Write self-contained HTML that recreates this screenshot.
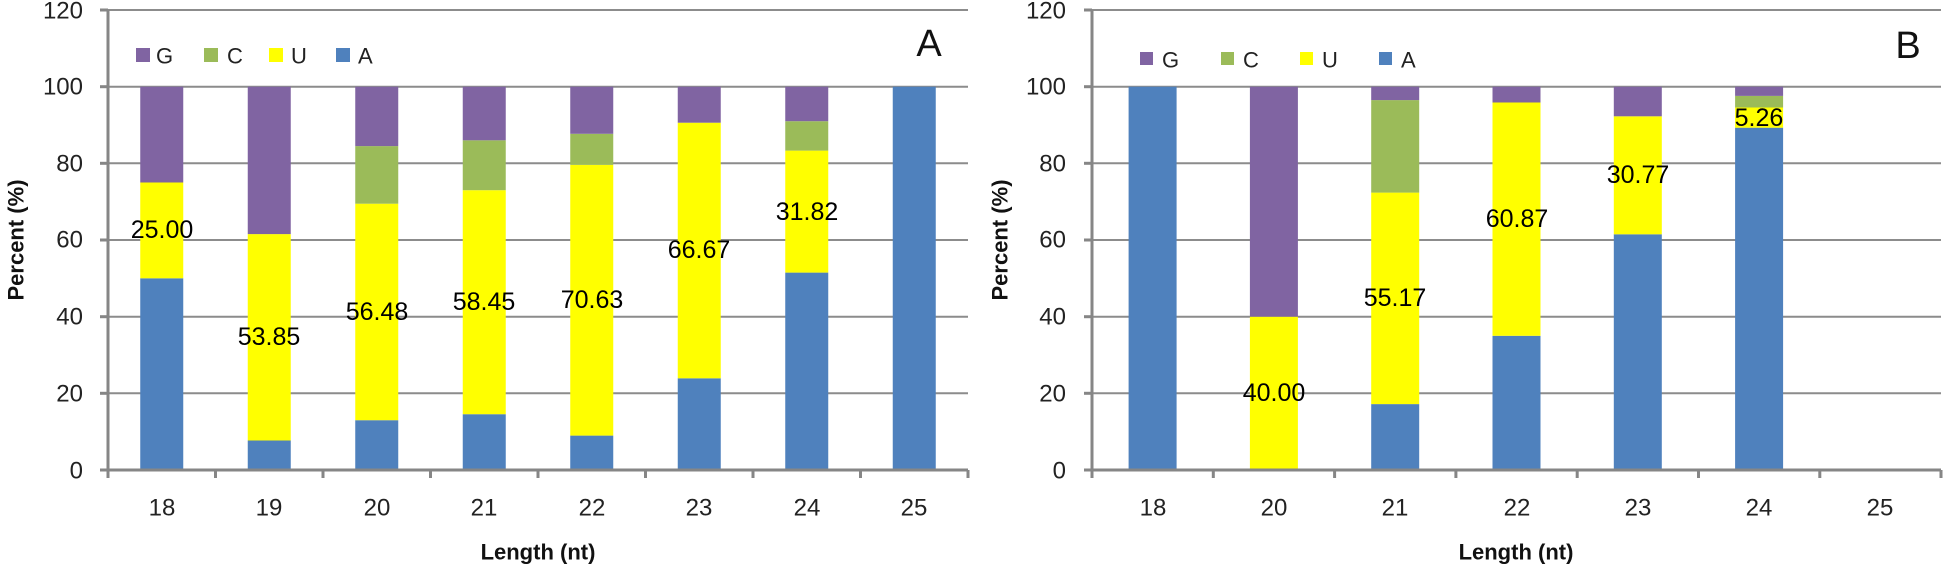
<!DOCTYPE html>
<html><head><meta charset="utf-8"><style>html,body{margin:0;padding:0;background:#fff}svg{display:block}text{font-family:"Liberation Sans",sans-serif}</style></head>
<body>
<svg width="1946" height="568" xmlns="http://www.w3.org/2000/svg">
<g stroke="#8c8c8c" stroke-width="2">
<line x1="108" y1="10" x2="968" y2="10"/><line x1="108" y1="86.7" x2="968" y2="86.7"/><line x1="108" y1="163.3" x2="968" y2="163.3"/><line x1="108" y1="240" x2="968" y2="240"/><line x1="108" y1="316.7" x2="968" y2="316.7"/><line x1="108" y1="393.3" x2="968" y2="393.3"/>
<line x1="1092" y1="10" x2="1941" y2="10"/><line x1="1092" y1="86.7" x2="1941" y2="86.7"/><line x1="1092" y1="163.3" x2="1941" y2="163.3"/><line x1="1092" y1="240" x2="1941" y2="240"/><line x1="1092" y1="316.7" x2="1941" y2="316.7"/><line x1="1092" y1="393.3" x2="1941" y2="393.3"/>
</g>
<g>
<rect x="140.25" y="278.3" width="43" height="191.7" fill="#4f81bd"/><rect x="140.25" y="182.5" width="43" height="95.8" fill="#ffff00"/><rect x="140.25" y="86.7" width="43" height="95.8" fill="#8064a2"/>
<rect x="247.75" y="440.5" width="43" height="29.5" fill="#4f81bd"/><rect x="247.75" y="234.1" width="43" height="206.4" fill="#ffff00"/><rect x="247.75" y="86.7" width="43" height="147.4" fill="#8064a2"/>
<rect x="355.25" y="420.2" width="43" height="49.8" fill="#4f81bd"/><rect x="355.25" y="203.7" width="43" height="216.5" fill="#ffff00"/><rect x="355.25" y="146.1" width="43" height="57.6" fill="#9bbb59"/><rect x="355.25" y="86.7" width="43" height="59.4" fill="#8064a2"/>
<rect x="462.75" y="414.2" width="43" height="55.8" fill="#4f81bd"/><rect x="462.75" y="190.2" width="43" height="224" fill="#ffff00"/><rect x="462.75" y="140.3" width="43" height="49.9" fill="#9bbb59"/><rect x="462.75" y="86.7" width="43" height="53.6" fill="#8064a2"/>
<rect x="570.25" y="435.6" width="43" height="34.4" fill="#4f81bd"/><rect x="570.25" y="164.9" width="43" height="270.7" fill="#ffff00"/><rect x="570.25" y="133.8" width="43" height="31.1" fill="#9bbb59"/><rect x="570.25" y="86.7" width="43" height="47.1" fill="#8064a2"/>
<rect x="677.75" y="378.3" width="43" height="91.7" fill="#4f81bd"/><rect x="677.75" y="122.7" width="43" height="255.6" fill="#ffff00"/><rect x="677.75" y="86.7" width="43" height="36" fill="#8064a2"/>
<rect x="785.25" y="272.6" width="43" height="197.4" fill="#4f81bd"/><rect x="785.25" y="150.6" width="43" height="122" fill="#ffff00"/><rect x="785.25" y="121.2" width="43" height="29.4" fill="#9bbb59"/><rect x="785.25" y="86.7" width="43" height="34.5" fill="#8064a2"/>
<rect x="892.75" y="86.7" width="43" height="383.3" fill="#4f81bd"/>
</g>
<g>
<rect x="1128.6" y="86.7" width="48" height="383.3" fill="#4f81bd"/>
<rect x="1249.9" y="316.7" width="48" height="153.3" fill="#ffff00"/><rect x="1249.9" y="86.7" width="48" height="230" fill="#8064a2"/>
<rect x="1371.2" y="404.1" width="48" height="65.9" fill="#4f81bd"/><rect x="1371.2" y="192.6" width="48" height="211.5" fill="#ffff00"/><rect x="1371.2" y="100.1" width="48" height="92.5" fill="#9bbb59"/><rect x="1371.2" y="86.7" width="48" height="13.4" fill="#8064a2"/>
<rect x="1492.5" y="335.8" width="48" height="134.2" fill="#4f81bd"/><rect x="1492.5" y="102.5" width="48" height="233.3" fill="#ffff00"/><rect x="1492.5" y="86.7" width="48" height="15.8" fill="#8064a2"/>
<rect x="1613.8" y="234.3" width="48" height="235.7" fill="#4f81bd"/><rect x="1613.8" y="116.3" width="48" height="118" fill="#ffff00"/><rect x="1613.8" y="86.7" width="48" height="29.6" fill="#8064a2"/>
<rect x="1735.1" y="127.7" width="48" height="342.3" fill="#4f81bd"/><rect x="1735.1" y="107.5" width="48" height="20.2" fill="#ffff00"/><rect x="1735.1" y="95.9" width="48" height="11.6" fill="#9bbb59"/><rect x="1735.1" y="86.7" width="48" height="9.2" fill="#8064a2"/>
</g>
<g stroke="#868686" stroke-width="3" fill="none">
<line x1="108" y1="10" x2="108" y2="478"/><line x1="100" y1="470" x2="968" y2="470"/>
<line x1="1092" y1="10" x2="1092" y2="478"/><line x1="1084" y1="470" x2="1941" y2="470"/>
</g>
<g stroke="#868686" stroke-width="3">
<line x1="100" y1="10" x2="108" y2="10"/><line x1="100" y1="86.7" x2="108" y2="86.7"/><line x1="100" y1="163.3" x2="108" y2="163.3"/><line x1="100" y1="240" x2="108" y2="240"/><line x1="100" y1="316.7" x2="108" y2="316.7"/><line x1="100" y1="393.3" x2="108" y2="393.3"/>
<line x1="215.5" y1="470" x2="215.5" y2="478"/><line x1="323" y1="470" x2="323" y2="478"/><line x1="430.5" y1="470" x2="430.5" y2="478"/><line x1="538" y1="470" x2="538" y2="478"/><line x1="645.5" y1="470" x2="645.5" y2="478"/><line x1="753" y1="470" x2="753" y2="478"/><line x1="860.5" y1="470" x2="860.5" y2="478"/><line x1="968" y1="470" x2="968" y2="478"/>
<line x1="1084" y1="10" x2="1092" y2="10"/><line x1="1084" y1="86.7" x2="1092" y2="86.7"/><line x1="1084" y1="163.3" x2="1092" y2="163.3"/><line x1="1084" y1="240" x2="1092" y2="240"/><line x1="1084" y1="316.7" x2="1092" y2="316.7"/><line x1="1084" y1="393.3" x2="1092" y2="393.3"/>
<line x1="1213.3" y1="470" x2="1213.3" y2="478"/><line x1="1334.6" y1="470" x2="1334.6" y2="478"/><line x1="1455.9" y1="470" x2="1455.9" y2="478"/><line x1="1577.2" y1="470" x2="1577.2" y2="478"/><line x1="1698.5" y1="470" x2="1698.5" y2="478"/><line x1="1819.8" y1="470" x2="1819.8" y2="478"/><line x1="1941" y1="470" x2="1941" y2="478"/>
</g>
<g font-size="24" fill="#222" text-anchor="end" dominant-baseline="central">
<text x="83" y="11">120</text><text x="83" y="87">100</text><text x="83" y="164">80</text><text x="83" y="240">60</text><text x="83" y="317">40</text><text x="83" y="394">20</text><text x="83" y="471">0</text>
<text x="1066" y="11">120</text><text x="1066" y="87">100</text><text x="1066" y="164">80</text><text x="1066" y="240">60</text><text x="1066" y="317">40</text><text x="1066" y="394">20</text><text x="1066" y="471">0</text>
</g>
<g font-size="24" fill="#222" text-anchor="middle" dominant-baseline="central">
<text x="162" y="508">18</text><text x="269" y="508">19</text><text x="377" y="508">20</text><text x="484" y="508">21</text><text x="592" y="508">22</text><text x="699" y="508">23</text><text x="807" y="508">24</text><text x="914" y="508">25</text>
<text x="1153" y="508">18</text><text x="1274" y="508">20</text><text x="1395" y="508">21</text><text x="1517" y="508">22</text><text x="1638" y="508">23</text><text x="1759" y="508">24</text><text x="1880" y="508">25</text>
</g>
<g font-size="22" font-weight="bold" fill="#111" text-anchor="middle" dominant-baseline="central">
<text x="538" y="552">Length (nt)</text><text x="1516" y="552">Length (nt)</text>
<text transform="translate(16,240) rotate(-90)">Percent (%)</text>
<text transform="translate(1000,240) rotate(-90)">Percent (%)</text>
</g>
<g font-size="25" fill="#000" text-anchor="middle" dominant-baseline="central">
<text x="162" y="230">25.00</text><text x="269" y="337">53.85</text><text x="377" y="312">56.48</text><text x="484" y="302">58.45</text><text x="592" y="300">70.63</text><text x="699" y="250">66.67</text><text x="807" y="212">31.82</text>
<text x="1274" y="393">40.00</text><text x="1395" y="298">55.17</text><text x="1517" y="219">60.87</text><text x="1638" y="175">30.77</text><text x="1759" y="118">5.26</text>
</g>
<g font-size="22" fill="#222" dominant-baseline="central">
<rect x="136" y="48" width="14" height="14" fill="#8064a2"/><text x="156" y="56">G</text>
<rect x="204" y="48" width="14" height="14" fill="#9bbb59"/><text x="227" y="56">C</text>
<rect x="269" y="48" width="14" height="14" fill="#ffff00"/><text x="291" y="56">U</text>
<rect x="336" y="48" width="14" height="14" fill="#4f81bd"/><text x="358" y="56">A</text>
<rect x="1140" y="52" width="13" height="13" fill="#8064a2"/><text x="1162" y="60">G</text>
<rect x="1221" y="52" width="13" height="13" fill="#9bbb59"/><text x="1243" y="60">C</text>
<rect x="1300" y="52" width="13" height="13" fill="#ffff00"/><text x="1322" y="60">U</text>
<rect x="1379" y="52" width="13" height="13" fill="#4f81bd"/><text x="1401" y="60">A</text>
</g>
<g font-size="38" fill="#111" text-anchor="middle" dominant-baseline="central">
<text x="929" y="44">A</text><text x="1908" y="46">B</text>
</g>
</svg>
</body></html>
